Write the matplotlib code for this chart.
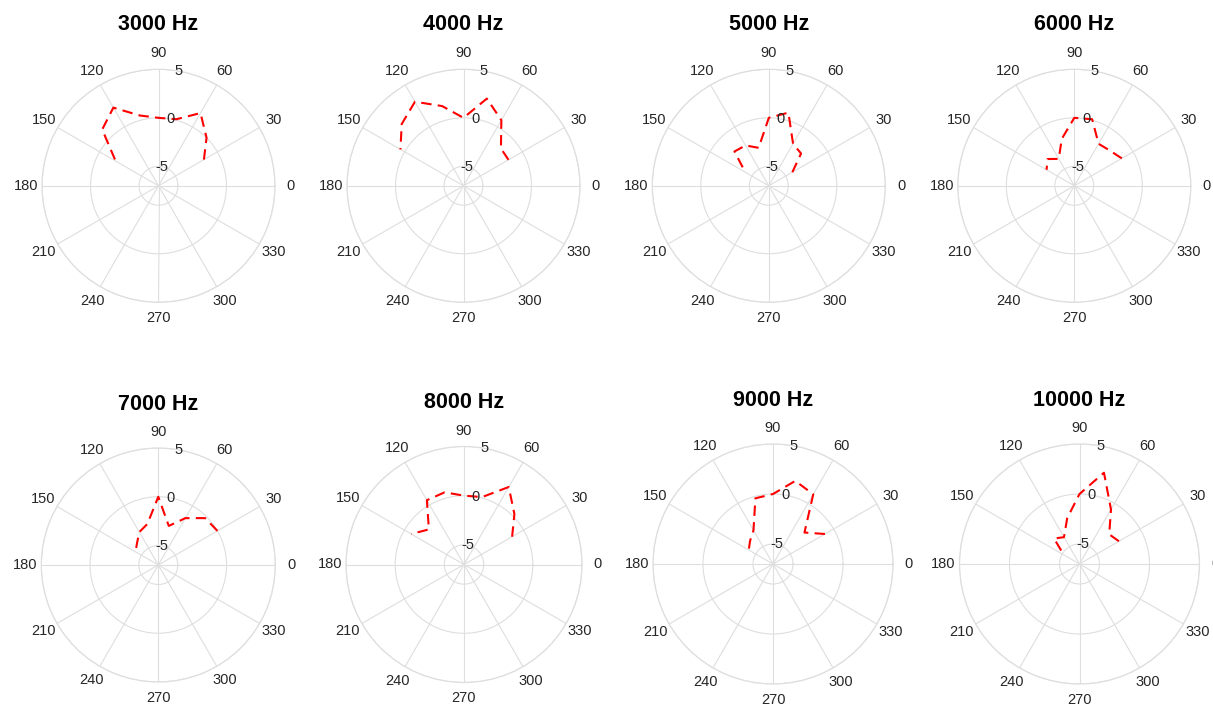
import numpy as np
import matplotlib
matplotlib.use("Agg")
import matplotlib.pyplot as plt

plt.rcParams['font.family'] = ['Liberation Sans', 'DejaVu Sans']

angles_deg = [30, 45, 60, 75, 90, 105, 120, 135, 150]
titles = ["3000 Hz", "4000 Hz", "5000 Hz", "6000 Hz",
          "7000 Hz", "8000 Hz", "9000 Hz", "10000 Hz"]

v3000 = [-1.6, 0.0, 1.65, 0.1, 0.0, 0.5, 2.3, 1.2, -1.9]
v4000 = [-1.65, -1.55, 0.8, 2.3, 0.0, 1.5, 3.0, 2.0, 0.5]
v5000 = [-4.2, -2.3, -2.0, 0.8, 0.0, -2.95, -2.2, -2.0, -4.2]
v6000 = [-1.35, -1.85, -2.0, 0.1, 0.0, -2.0, -3.8, -3.1, -3.7]
v7000 = [0.0, -0.2, -1.45, -2.85, 0.0, -2.65, -3.1, -3.9, -4.3]
v8000 = [-1.35, 0.25, 2.1, 0.1, 0.0, 0.6, 0.55, -1.95, -0.8]
v9000 = [-1.0, -2.55, 1.05, 1.6, 0.0, -0.2, -3.1, -3.75, -4.2]
v10000 = [-2.45, -2.8, -0.7, 2.45, 0.0, -2.25, -3.9, -3.4, -5.2]
series = [v3000, v4000, v5000, v6000, v7000, v8000, v9000, v10000]

theta_ticks = list(range(0, 360, 30))
r_ticks = [-5, 0, 5]
r_min, r_max = -7, 5

# layout (pixel centers / radii)
centers = [(158.5, 185.8), (463.5, 185.8), (768.8, 185.8), (1074.3, 185.8),
           (158.3, 565.0), (464.0, 564.5), (773.0, 564.0), (1079.5, 564.0)]
radii = [116.5, 116.5, 116.5, 116.5, 117.0, 118.0, 120.0, 120.0]
title_y = [24, 24, 24, 24, 405, 402, 400, 400]

W, H = 1213, 707
fig = plt.figure(figsize=(W / 100, H / 100), dpi=100)
fig.patch.set_facecolor('white')

grid_col = '#dedede'
text_col = '#262626'

for i in range(8):
    cx, cy = centers[i]
    r = radii[i]
    ax = fig.add_axes([(cx - r) / W, 1 - (cy + r) / H, 2 * r / W, 2 * r / H],
                      projection='polar')
    ax.plot(np.deg2rad(angles_deg), series[i], color='red', lw=1.5,
            linestyle=(0, (5, 3)))
    ax.set_ylim(r_min, r_max)
    ax.set_rgrids(r_ticks, labels=[''] * len(r_ticks))
    ax.set_thetagrids(theta_ticks, labels=[str(t) for t in theta_ticks],
                      fontsize=10.5, color=text_col)
    ax.tick_params(axis='x', pad=4.5, size=0)
    ax.grid(True, color=grid_col, lw=0.8)
    ax.spines['polar'].set_color(grid_col)
    ax.spines['polar'].set_linewidth(0.9)
    for rt in r_ticks:
        ax.text(np.deg2rad(80), rt, str(rt), ha='center', va='center',
                fontsize=10.5, color=text_col)
    fig.text(cx / W, 1 - title_y[i] / H, titles[i], ha='center', va='center',
             fontsize=15.5, fontweight='bold', color='black')

fig.savefig('out.png', dpi=100, facecolor='white')
